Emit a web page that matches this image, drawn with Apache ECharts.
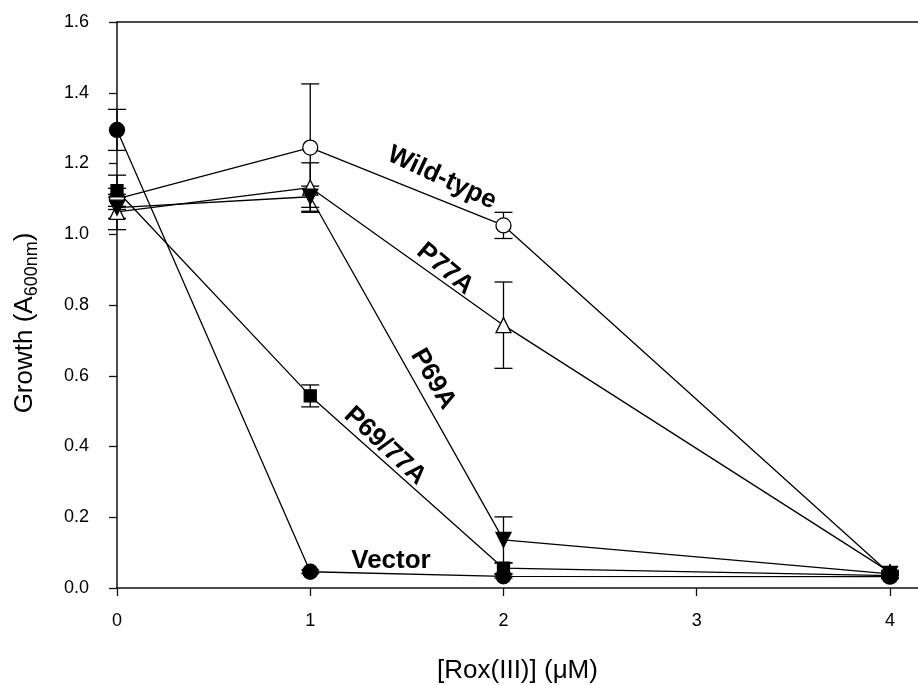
<!DOCTYPE html>
<html>
<head>
    <meta charset="utf-8">
    <title>Growth vs Rox(III)</title>
    <script src="https://cdn.jsdelivr.net/npm/echarts@6/dist/echarts.min.js"></script>
    <style>
        html, body { margin: 0; padding: 0; background: #fff; }
    </style>
</head>
<body>
    <div id="main" style="width: 918px;height:685px;"></div>
    <script type="text/javascript">
        // concentrations (uM)
        var xVals = [0, 1, 2, 4];
        var xTicks = [0, 1, 2, 3, 4];

        var wildType    = [1.100, 1.245, 1.025, 0.040];
        var wildTypeErr = [0.030, 0.180, 0.037, 0.005];
        var p77a        = [1.063, 1.132, 0.743, 0.045];
        var p77aErr     = [0.050, 0.070, 0.122, 0.005];
        var p69a        = [1.075, 1.106, 0.136, 0.040];
        var p69aErr     = [0.030, 0.030, 0.065, 0.005];
        var p6977a      = [1.123, 0.543, 0.056, 0.035];
        var p6977aErr   = [0.044, 0.031, 0.015, 0.005];
        var vector      = [1.295, 0.046, 0.033, 0.032];
        var vectorErr   = [0.058, 0.005, 0.005, 0.005];

        var FONT = 'Liberation Sans, Arial, sans-serif';

        var chartDom = document.getElementById('main');
        var myChart = echarts.init(chartDom, null, {renderer: 'canvas'});

        function pts(vals) {
            return xVals.map(function (x, i) { return [x, vals[i]]; });
        }
        function errPts(vals, errs) {
            return xVals.map(function (x, i) { return [x, vals[i], errs[i]]; });
        }

        function errorBars(params, api) {
            var x = api.value(0), y = api.value(1), e = api.value(2);
            var top = api.coord([x, y + e]);
            var bot = api.coord([x, y - e]);
            var w = 9;
            var st = {stroke: '#000', lineWidth: 1.3};
            return {
                type: 'group',
                children: [
                    {type: 'line', shape: {x1: top[0], y1: top[1], x2: bot[0], y2: bot[1]}, style: st},
                    {type: 'line', shape: {x1: top[0] - w, y1: top[1], x2: top[0] + w, y2: top[1]}, style: st},
                    {type: 'line', shape: {x1: bot[0] - w, y1: bot[1], x2: bot[0] + w, y2: bot[1]}, style: st}
                ]
            };
        }

        function errSeries(vals, errs) {
            return {
                type: 'custom',
                renderItem: errorBars,
                data: errPts(vals, errs),
                encode: {x: 0, y: 1},
                z: 1,
                silent: true,
                animation: false
            };
        }

        function lineSeries(name, vals, symbol, size, fill, rotate) {
            return {
                name: name,
                type: 'line',
                data: pts(vals),
                symbol: symbol,
                symbolSize: size,
                symbolRotate: rotate || 0,
                showAllSymbol: true,
                lineStyle: {color: '#000', width: 1.3},
                itemStyle: {color: fill, borderColor: '#000', borderWidth: 1.3},
                z: 2,
                animation: false
            };
        }

        // curve labels, rotation in degrees clockwise
        var labels = [
            {text: 'Wild-type', x: 442, y: 178, rot: 25},
            {text: 'P77A', x: 445, y: 269, rot: 40},
            {text: 'P69A', x: 433, y: 379, rot: 60},
            {text: 'P69/77A', x: 385, y: 446, rot: 43},
            {text: 'Vector', x: 391, y: 561, rot: 0}
        ];

        var option = {
            backgroundColor: '#fff',
            grid: {left: 117, right: 0, top: 22, bottom: 97, outerBoundsMode: 'none', containLabel: false},
            xAxis: [{
                type: 'value',
                min: 0,
                max: 4.145,
                interval: 1,
                name: '[Rox(III)] (\u03bcM)',
                nameLocation: 'middle',
                nameGap: 70,
                nameTextStyle: {fontFamily: FONT, fontSize: 26, color: '#000'},
                axisLine: {show: true, lineStyle: {color: '#111', width: 1.5}},
                axisTick: {show: true, inside: false, length: 8, customValues: xTicks, lineStyle: {color: '#111', width: 1.3}},
                axisLabel: {
                    customValues: xTicks,
                    margin: 24,
                    fontFamily: FONT, fontSize: 18, color: '#000',
                    formatter: function (v) { return Math.abs(v - Math.round(v)) < 1e-6 ? String(Math.round(v)) : ''; }
                },
                splitLine: {show: false}
            }, {
                type: 'value',
                position: 'top',
                min: 0,
                max: 4.145,
                axisLine: {show: true, onZero: false, lineStyle: {color: '#111', width: 1.5}},
                axisTick: {show: false},
                axisLabel: {show: false},
                splitLine: {show: false}
            }],
            yAxis: {
                type: 'value',
                min: 0,
                max: 1.6,
                interval: 0.2,
                name: '{a|Growth (A}{b|600nm}{a|)}',
                nameLocation: 'middle',
                nameRotate: 90,
                nameGap: 76,
                nameTextStyle: {
                    padding: [0, 36, 0, 0],
                    rich: {
                        a: {fontFamily: FONT, fontSize: 26, color: '#000', lineHeight: 32},
                        b: {fontFamily: FONT, fontSize: 18, color: '#000', lineHeight: 16, verticalAlign: 'bottom'}
                    }
                },
                axisLine: {show: true, lineStyle: {color: '#111', width: 1.5}},
                axisTick: {show: true, inside: false, length: 8, lineStyle: {color: '#111', width: 1.3}},
                axisLabel: {
                    margin: 28,
                    fontFamily: FONT, fontSize: 18, color: '#000',
                    formatter: function (v) { return v.toFixed(1); }
                },
                splitLine: {show: false}
            },
            graphic: labels.map(function (l) {
                return {
                    type: 'text',
                    x: l.x,
                    y: l.y,
                    rotation: -l.rot * Math.PI / 180,
                    z: 10,
                    style: {
                        text: l.text,
                        fontFamily: FONT,
                        fontWeight: 'bold',
                        fontSize: 26,
                        fill: '#000',
                        align: 'center',
                        verticalAlign: 'middle'
                    }
                };
            }),
            series: [
                errSeries(wildType, wildTypeErr),
                errSeries(p77a, p77aErr),
                errSeries(p69a, p69aErr),
                errSeries(p6977a, p6977aErr),
                errSeries(vector, vectorErr),
                lineSeries('Wild-type', wildType, 'circle', 15, '#fff'),
                lineSeries('P77A', p77a, 'triangle', 15, '#fff'),
                lineSeries('P69A', p69a, 'triangle', 15, '#000', 180),
                lineSeries('P69/77A', p6977a, 'rect', 12, '#000'),
                lineSeries('Vector', vector, 'circle', 15, '#000')
            ]
        };
        myChart.setOption(option);
    </script>
</body>
</html>
